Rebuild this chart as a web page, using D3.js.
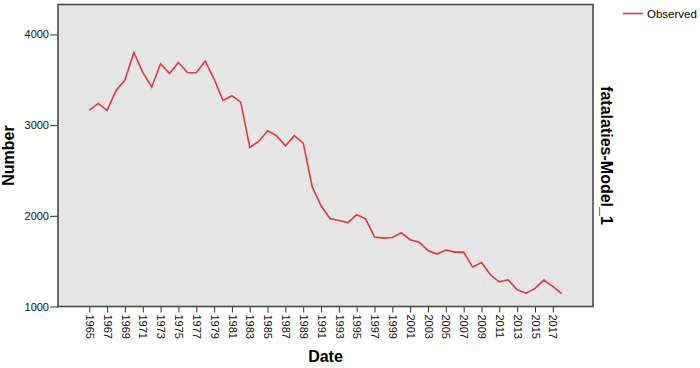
<!DOCTYPE html>
<html>
<head>
<meta charset="utf-8">
<script src="https://cdn.jsdelivr.net/npm/d3@7"></script>
<style>
  body { margin: 0; background: #fff; }
  svg { font-family: "Liberation Sans", Arial, sans-serif; }
  .axis text { font-size: 11px; fill: #111; }
  .axis line { stroke: #333; }
</style>
</head>
<body>
<svg width="700" height="368"></svg>
<script>
// observed fatalities per year
var years = d3.range(1965, 2019);
var observed = [3162, 3239, 3162, 3382, 3497, 3801, 3581, 3420, 3677, 3570,
                3691, 3581, 3578, 3706, 3508, 3272, 3324, 3250, 2754, 2820,
                2938, 2883, 2772, 2883, 2802, 2323, 2111, 1971, 1948, 1926,
                2011, 1967, 1765, 1754, 1761, 1813, 1736, 1710, 1618, 1578,
                1622, 1600, 1600, 1435, 1485, 1350, 1272, 1294, 1184, 1147,
                1199, 1291, 1221, 1143];
var yTicks = [1000, 2000, 3000, 4000];
var xTicks = d3.range(1965, 2018, 2);
var legendLabel = "Observed";

var svg = d3.select("svg"),
    plotLeft = 58, plotRight = 593, plotTop = 4.5, plotBottom = 306.5;

var x = d3.scaleLinear().domain([1961.49, 2021.51]).range([plotLeft, plotRight]);
var y = d3.scaleLinear().domain([1000, 4330]).range([plotBottom, plotTop]);

svg.append("rect")
  .attr("x", plotLeft).attr("y", plotTop)
  .attr("width", plotRight - plotLeft).attr("height", plotBottom - plotTop)
  .attr("fill", "#e6e6e6");

svg.append("g")
  .attr("class", "axis")
  .attr("transform", "translate(" + plotLeft + ",0)")
  .call(d3.axisLeft(y).tickValues(yTicks).tickFormat(d3.format("d")).tickSize(8).tickPadding(1))
  .call(function(g) { g.select(".domain").remove(); });

var xa = svg.append("g")
  .attr("class", "axis")
  .attr("transform", "translate(0," + plotBottom + ")")
  .call(d3.axisBottom(x).tickValues(xTicks).tickFormat(d3.format("d")).tickSize(6));
xa.select(".domain").remove();
xa.selectAll("text")
  .attr("transform", "rotate(90)")
  .attr("x", 8).attr("y", 0).attr("dy", "0.35em")
  .attr("text-anchor", "start");

svg.append("rect")
  .attr("x", plotLeft).attr("y", plotTop)
  .attr("width", plotRight - plotLeft).attr("height", plotBottom - plotTop)
  .attr("fill", "none").attr("stroke", "#4a4a4a").attr("stroke-width", 1.6);

var line = d3.line()
  .x(function(d, i) { return x(years[i]); })
  .y(function(d) { return y(d); });

svg.append("path")
  .datum(observed)
  .attr("d", line)
  .attr("fill", "none")
  .attr("stroke", "#e8383d")
  .attr("stroke-width", 1.6);

// titles
svg.append("text")
  .attr("transform", "translate(14," + ((plotTop + plotBottom) / 2) + ") rotate(-90)")
  .attr("text-anchor", "middle")
  .attr("font-size", 16).attr("font-weight", "bold")
  .text("Number");

svg.append("text")
  .attr("x", (plotLeft + plotRight) / 2).attr("y", 362)
  .attr("text-anchor", "middle")
  .attr("font-size", 16).attr("font-weight", "bold")
  .text("Date");

svg.append("text")
  .attr("transform", "translate(601," + ((plotTop + plotBottom) / 2) + ") rotate(90)")
  .attr("text-anchor", "middle")
  .attr("font-size", 16).attr("font-weight", "bold")
  .text("fatalaties-Model_1");

// legend
svg.append("line")
  .attr("x1", 623).attr("x2", 643).attr("y1", 13.5).attr("y2", 13.5)
  .attr("stroke", "#e8383d").attr("stroke-width", 1.6);
svg.append("text")
  .attr("x", 647).attr("y", 17.5)
  .attr("font-size", 11.5)
  .text(legendLabel);
</script>
</body>
</html>
